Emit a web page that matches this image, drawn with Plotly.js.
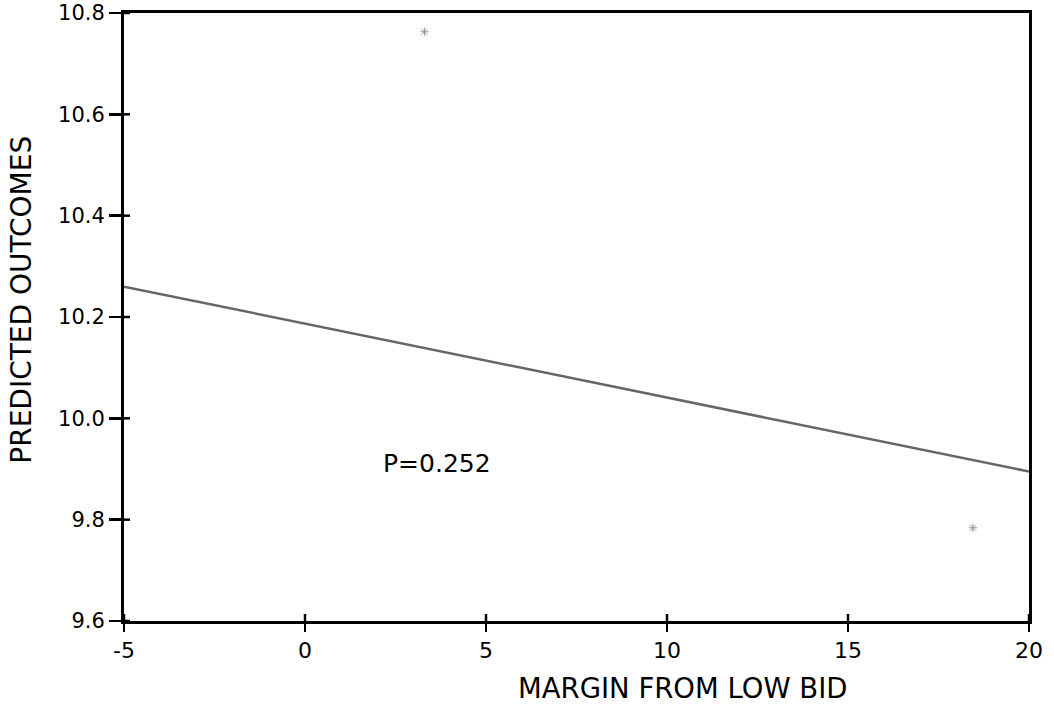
<!DOCTYPE html>
<html>
<head>
<meta charset="utf-8">
<script src="https://cdn.plot.ly/plotly-3.0.1.min.js"></script>
<style>
  html, body { margin: 0; padding: 0; background: #fff; }
  #chart { width: 1054px; height: 706px; }
</style>
</head>
<body>
<div id="chart"></div>
<script>
// Fitted regression line (margin vs predicted outcome)
const fitX = [-5, 20];
const fitY = [10.26, 9.895];

// Observed points
const obsX = [3.3, 18.45];
const obsY = [10.763, 9.784];

// Axis ticks
const xTicks = [-5, 0, 5, 10, 15, 20];
const xTickText = ['-5', '0', '5', '10', '15', '20'];
const yTicks = [9.6, 9.8, 10.0, 10.2, 10.4, 10.6, 10.8];
const yTickText = ['9.6', '9.8', '10.0', '10.2', '10.4', '10.6', '10.8'];

const pLabel = 'P=0.252';
const xTitle = 'MARGIN FROM LOW BID';
const yTitle = 'PREDICTED OUTCOMES';

const FONT = 'DejaVu Sans, sans-serif';
const xRange = [-5, 20];
const yRange = [9.6, 10.8];

const W = 1054, H = 706;
const M = { l: 124, r: 25, t: 13, b: 85 };
const plotW = W - M.l - M.r, plotH = H - M.t - M.b;

const traces = [
  {
    x: fitX, y: fitY, type: 'scatter', mode: 'lines',
    line: { color: '#666', width: 2.5 },
    hoverinfo: 'skip', showlegend: false
  },
  {
    x: obsX, y: obsY, type: 'scatter', mode: 'markers',
    marker: { symbol: 'asterisk-open', size: 7, color: '#999',
              line: { color: '#999', width: 1 } },
    showlegend: false
  }
];

// Tick marks cross the frame: the axis draws the outer half,
// these short segments add the inner half at each tick value.
const tickStub = { color: '#000', width: 2.5 };
const shapes = [];
xTicks.forEach(v => shapes.push({
  type: 'line', xref: 'x', yref: 'paper',
  x0: v, x1: v, y0: 0, y1: 7 / plotH, line: tickStub
}));
yTicks.forEach(v => shapes.push({
  type: 'line', xref: 'paper', yref: 'y',
  x0: 0, x1: 6 / plotW, y0: v, y1: v, line: tickStub
}));

const layout = {
  width: W, height: H,
  paper_bgcolor: '#fff', plot_bgcolor: '#fff',
  margin: M,
  font: { family: FONT, color: '#000' },
  showlegend: false,
  xaxis: {
    range: xRange, tickvals: xTicks, ticktext: xTickText,
    showgrid: false, zeroline: false,
    showline: true, linecolor: '#000', linewidth: 3, mirror: true,
    ticks: 'outside', ticklen: 8, tickwidth: 2.5, tickcolor: '#000',
    tickfont: { family: FONT, size: 22, color: '#000' }
  },
  yaxis: {
    range: yRange, tickvals: yTicks, ticktext: yTickText,
    showgrid: false, zeroline: false,
    showline: true, linecolor: '#000', linewidth: 3, mirror: true,
    ticks: 'outside', ticklen: 12, tickwidth: 2.5, tickcolor: '#000',
    tickfont: { family: FONT, size: 21, color: '#000' }
  },
  shapes: shapes,
  annotations: [
    {
      text: pLabel, x: 3.65, y: 9.91, xref: 'x', yref: 'y',
      xanchor: 'center', yanchor: 'middle', showarrow: false,
      font: { family: FONT, size: 25, color: '#000' }
    },
    {
      text: xTitle, x: 0.618, y: -0.11, xref: 'paper', yref: 'paper',
      xanchor: 'center', yanchor: 'middle', showarrow: false,
      font: { family: FONT, size: 27.5, color: '#000' }
    },
    {
      text: yTitle, x: -0.113, y: 0.528, xref: 'paper', yref: 'paper',
      xanchor: 'center', yanchor: 'middle', showarrow: false, textangle: -90,
      font: { family: FONT, size: 28, color: '#000' }
    }
  ]
};

Plotly.newPlot('chart', traces, layout, { staticPlot: true, displayModeBar: false });
</script>
</body>
</html>
